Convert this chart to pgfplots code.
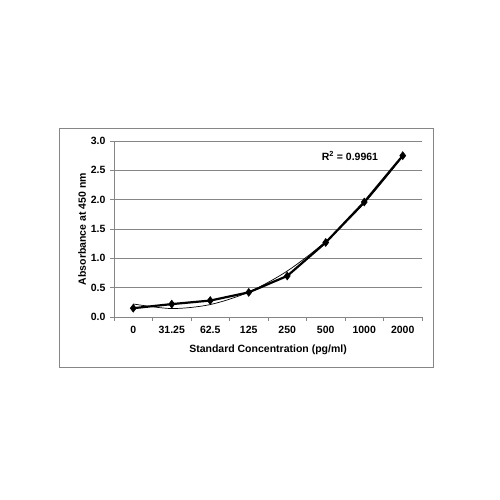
\documentclass[border=0pt]{standalone}
\usepackage{fontspec}
\setmainfont{Liberation Sans}
\usepackage{pgfplots}
\pgfplotsset{compat=1.18}
\definecolor{axisgrey}{HTML}{868686}

\pgfplotstableread{
idx conc absorb trend
0 0     0.15 0.222
1 31.25 0.22 0.144
2 62.5  0.28 0.212
3 125   0.42 0.425
4 250   0.70 0.784
5 500   1.27 1.289
6 1000  1.96 1.939
7 2000  2.75 2.735
}\stdcurve

\begin{document}
\begin{tikzpicture}[x=1pt,y=1pt]
\useasboundingbox[fill=white] (0,0) rectangle (500,500);
\draw[axisgrey, line width=0.8pt] (59,133) rectangle (433,372);
\begin{axis}[
    at={(114pt,183pt)}, anchor=south west,
    scale only axis,
    width=308pt, height=176pt,
    xmin=-0.5, xmax=7.5,
    ymin=0, ymax=3,
    axis lines*=left,
    axis line style={axisgrey, line width=0.8pt},
    xtick={0,...,7},
    xticklabels={0,31.25,62.5,125,250,500,1000,2000},
    minor xtick={-0.5,0.5,...,7.5},
    ytick={0,0.5,...,3},
    yticklabel style={xshift=-1pt, /pgf/number format/.cd, fixed, fixed zerofill, precision=1},
    /pgf/number format/assume math mode=true,
    tick align=outside,
    major x tick style={draw=none},
    minor tick length=4pt,
    major tick length=4pt,
    tick style={axisgrey, line width=0.8pt},
    ymajorgrids=true,
    grid style={axisgrey, line width=0.8pt},
    ticklabel style={font=\fontsize{10.5}{12}\selectfont\bfseries},
    xticklabel style={yshift=-2pt},
    label style={font=\fontsize{10.5}{12}\selectfont\bfseries},
    xlabel={Standard Concentration (pg/ml)},
    ylabel={Absorbance at 450 nm},
    xlabel style={yshift=-4pt},
    ylabel style={yshift=-2pt},
    clip=false,
]
\addplot[black, line width=0.7pt, smooth, no marks] table[x=idx, y=trend] {\stdcurve};
\addplot[black, line width=2.2pt, mark=diamond*, mark size=4pt,
         mark options={solid, line width=0.5pt}] table[x=idx, y=absorb] {\stdcurve};
\node[anchor=east, font=\fontsize{10.5}{12}\selectfont\bfseries] at (axis cs:6.45,2.75)
    {R\textsuperscript{2} = 0.9961};
\end{axis}
\end{tikzpicture}
\end{document}
